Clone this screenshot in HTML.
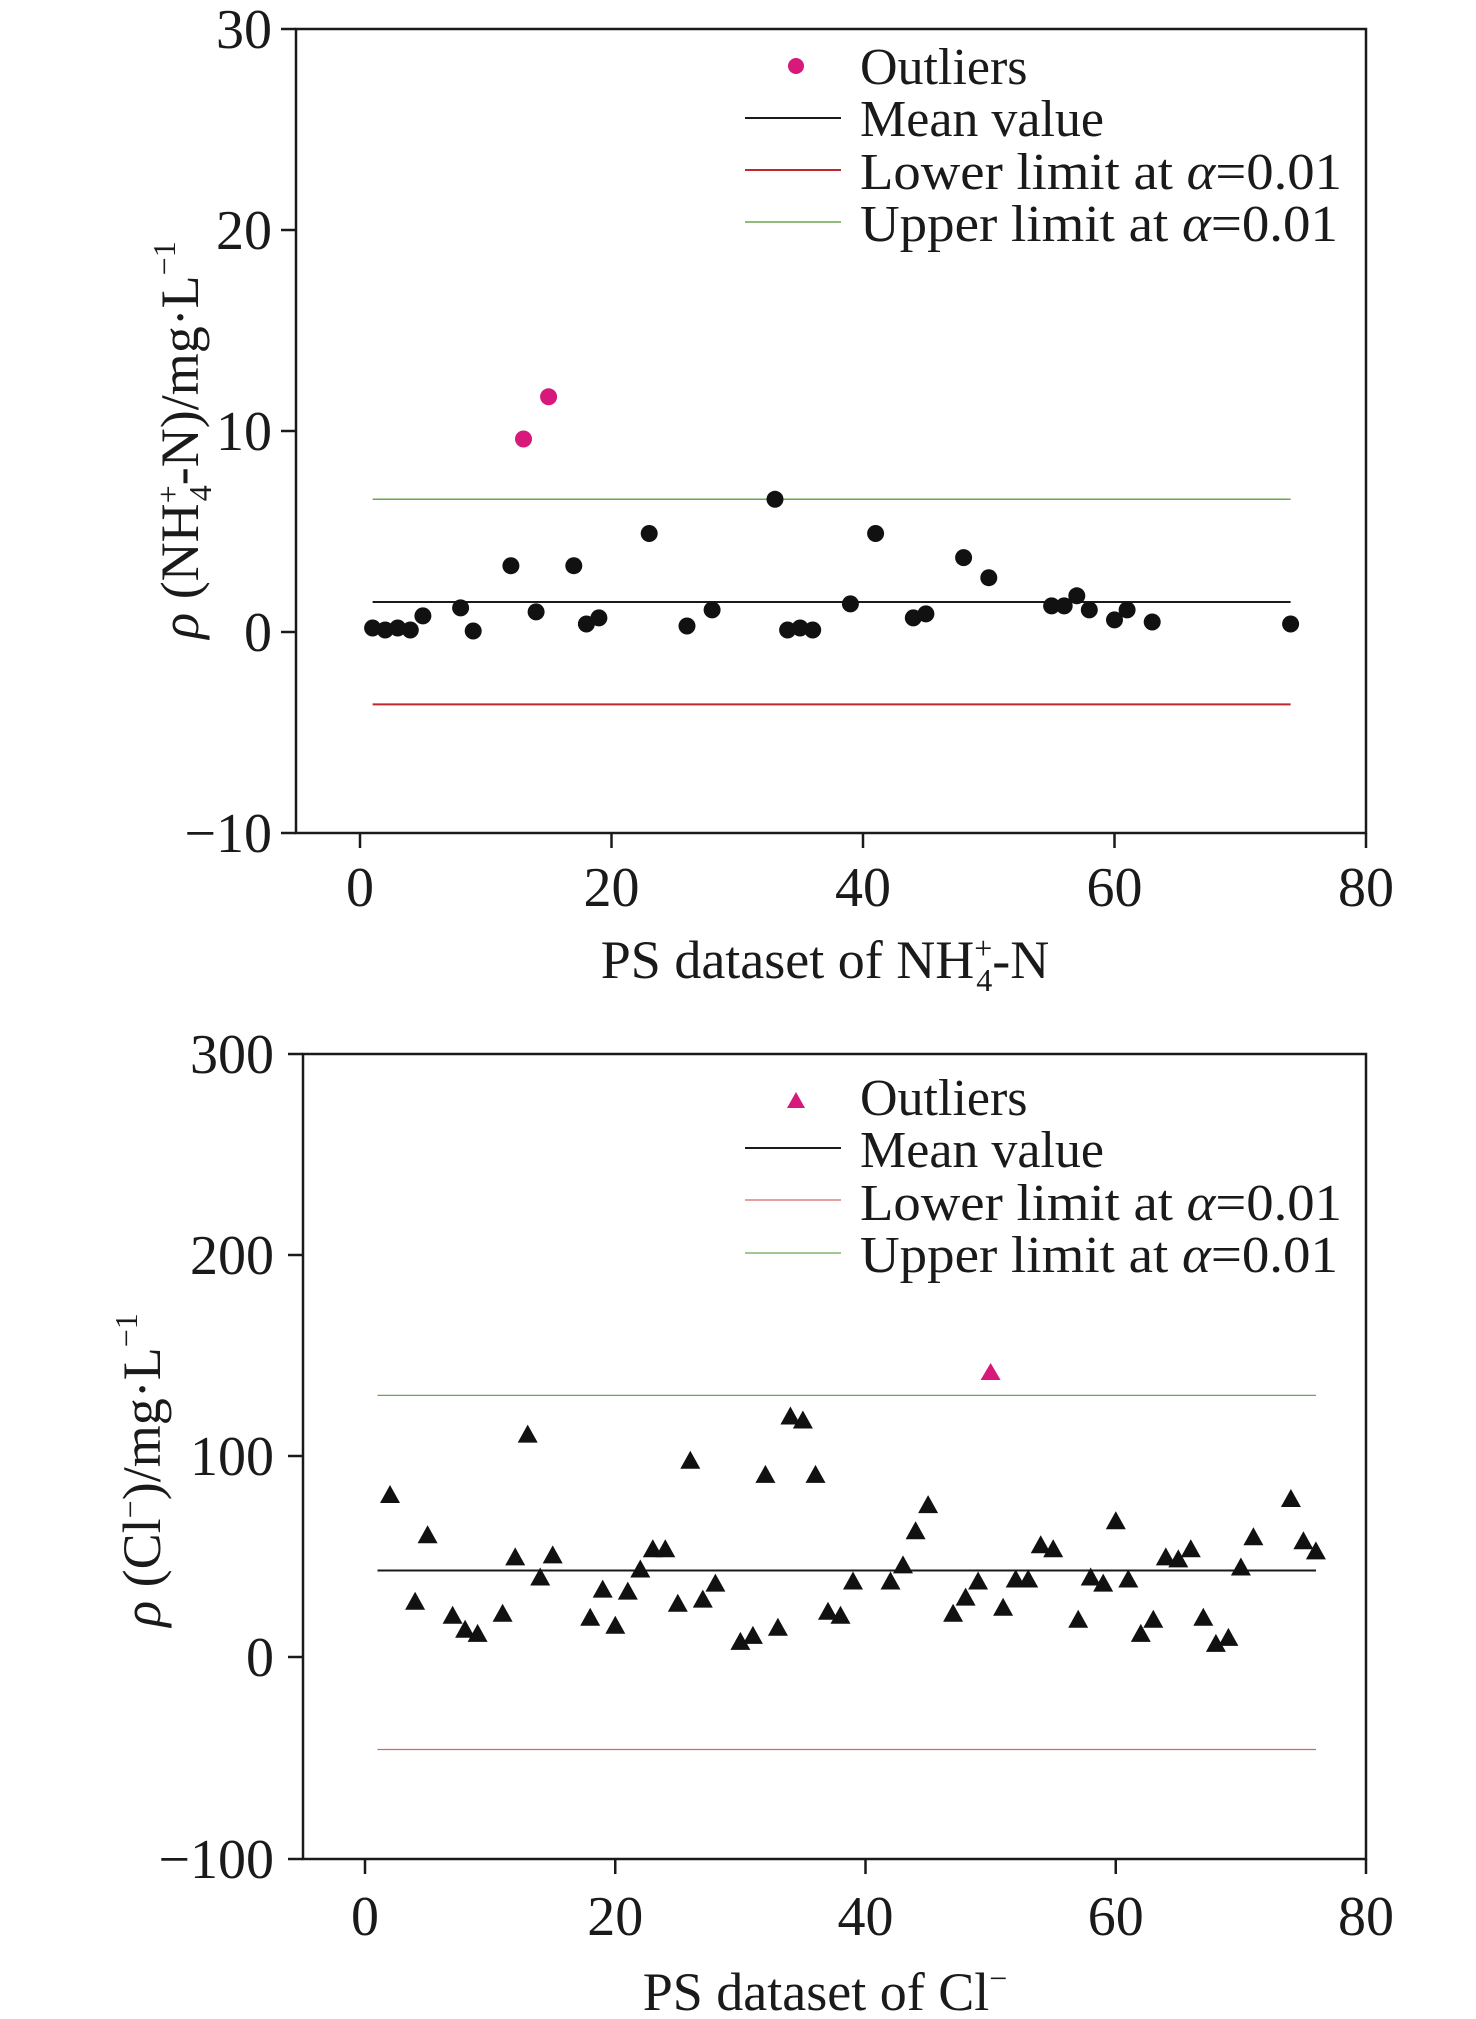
<!DOCTYPE html>
<html><head><meta charset="utf-8"><style>
html,body{margin:0;padding:0;background:#fff;}
svg{display:block;}
text{font-family:"Liberation Serif","Times New Roman",serif;fill:#1a1a1a;}
</style></head><body>
<svg width="1476" height="2019" viewBox="0 0 1476 2019" xmlns="http://www.w3.org/2000/svg" font-family="Liberation Serif, serif">
<defs><polygon id="t" points="0,-11 -10,7 10,7" fill="#111"/></defs>
<g id="top">
<rect x="296" y="29" width="1070" height="804" fill="none" stroke="#1a1a1a" stroke-width="2.5"/>
<g stroke="#1a1a1a" stroke-width="2.5">
<line x1="281" y1="29" x2="296" y2="29"/><line x1="281" y1="230" x2="296" y2="230"/><line x1="281" y1="431" x2="296" y2="431"/><line x1="281" y1="632" x2="296" y2="632"/><line x1="281" y1="833" x2="296" y2="833"/>
<line x1="360" y1="833" x2="360" y2="848"/><line x1="611.5" y1="833" x2="611.5" y2="848"/><line x1="863" y1="833" x2="863" y2="848"/><line x1="1114.5" y1="833" x2="1114.5" y2="848"/><line x1="1366" y1="833" x2="1366" y2="848"/>
</g>
<g font-size="56" text-anchor="end">
<text x="272" y="48">30</text><text x="272" y="249">20</text><text x="272" y="450">10</text><text x="272" y="651">0</text><text x="272" y="852">−10</text>
</g>
<g font-size="56" text-anchor="middle">
<text x="360" y="906">0</text><text x="611.5" y="906">20</text><text x="863" y="906">40</text><text x="1114.5" y="906">60</text><text x="1366" y="906">80</text>
</g>
<text x="825" y="978" font-size="54" text-anchor="middle">PS dataset of NH<tspan font-size="32" dy="-19">+</tspan><tspan font-size="32" dx="-16" dy="32">4</tspan><tspan dy="-13">-N</tspan></text>
<text transform="translate(198,440) rotate(-90)" font-size="54" text-anchor="middle"><tspan font-style="italic">ρ</tspan> (NH<tspan font-size="32" dy="-19">+</tspan><tspan font-size="32" dx="-16" dy="32">4</tspan><tspan dy="-13">-N)/mg·L</tspan><tspan font-size="32" dy="-23">−1</tspan></text>
<line x1="372.6" y1="602" x2="1290.6" y2="602" stroke="#1a1a1a" stroke-width="2"/>
<line x1="372.6" y1="499.3" x2="1290.6" y2="499.3" stroke="#6aa84f" stroke-width="1.5"/>
<line x1="372.6" y1="704.4" x2="1290.6" y2="704.4" stroke="#c0272d" stroke-width="2"/>
<circle cx="523.5" cy="439" r="8.5" fill="#d6197a"/><circle cx="548.6" cy="396.8" r="8.5" fill="#d6197a"/>
<circle cx="796" cy="66" r="8" fill="#d6197a"/>
<line x1="745" y1="118" x2="841" y2="118" stroke="#1a1a1a" stroke-width="2"/>
<line x1="745" y1="170" x2="841" y2="170" stroke="#c0272d" stroke-width="2"/>
<line x1="745" y1="222" x2="841" y2="222" stroke="#6aa84f" stroke-width="1.5"/>
<g font-size="52">
<text x="860" y="84">Outliers</text>
<text x="860" y="136">Mean value</text>
<text x="860" y="189" textLength="482" lengthAdjust="spacingAndGlyphs">Lower limit at <tspan font-style="italic">α</tspan>=0.01</text>
<text x="860" y="241" textLength="478" lengthAdjust="spacingAndGlyphs">Upper limit at <tspan font-style="italic">α</tspan>=0.01</text>
</g>
</g>
<g id="bot">
<rect x="303" y="1054" width="1063" height="805" fill="none" stroke="#1a1a1a" stroke-width="2.5"/>
<g stroke="#1a1a1a" stroke-width="2.5">
<line x1="288" y1="1054" x2="303" y2="1054"/><line x1="288" y1="1255" x2="303" y2="1255"/><line x1="288" y1="1456" x2="303" y2="1456"/><line x1="288" y1="1657" x2="303" y2="1657"/><line x1="288" y1="1859" x2="303" y2="1859"/>
<line x1="365" y1="1859" x2="365" y2="1874"/><line x1="615.25" y1="1859" x2="615.25" y2="1874"/><line x1="865.5" y1="1859" x2="865.5" y2="1874"/><line x1="1115.75" y1="1859" x2="1115.75" y2="1874"/><line x1="1366" y1="1859" x2="1366" y2="1874"/>
</g>
<g font-size="56" text-anchor="end">
<text x="274" y="1073">300</text><text x="274" y="1274">200</text><text x="274" y="1475">100</text><text x="274" y="1676">0</text><text x="274" y="1878">−100</text>
</g>
<g font-size="56" text-anchor="middle">
<text x="365" y="1935">0</text><text x="615.25" y="1935">20</text><text x="865.5" y="1935">40</text><text x="1115.75" y="1935">60</text><text x="1366" y="1935">80</text>
</g>
<text x="825" y="2010" font-size="54" text-anchor="middle">PS dataset of Cl<tspan font-size="32" dy="-21">−</tspan></text>
<text transform="translate(160,1470) rotate(-90)" font-size="54" text-anchor="middle"><tspan font-style="italic">ρ</tspan> (Cl<tspan font-size="32" dy="-19">−</tspan><tspan dy="19">)/mg·L</tspan><tspan font-size="32" dy="-23">−1</tspan></text>
<line x1="377.5" y1="1570.5" x2="1316" y2="1570.5" stroke="#1a1a1a" stroke-width="2"/>
<line x1="377.5" y1="1395.4" x2="1316" y2="1395.4" stroke="#6aa84f" stroke-width="1.3"/>
<line x1="377.5" y1="1749.5" x2="1316" y2="1749.5" stroke="#c0272d" stroke-width="1.2" opacity="0.7"/>
<polygon points="990.6,1363 980.6,1380 1000.6,1380" fill="#d6197a"/>
<polygon points="796,1092 787,1108 805,1108" fill="#d6197a"/>
<line x1="745" y1="1148" x2="841" y2="1148" stroke="#1a1a1a" stroke-width="2"/>
<line x1="745" y1="1200" x2="841" y2="1200" stroke="#c0272d" stroke-width="1.2" opacity="0.7"/>
<line x1="745" y1="1253" x2="841" y2="1253" stroke="#6aa84f" stroke-width="1.3"/>
<g font-size="52">
<text x="860" y="1115">Outliers</text>
<text x="860" y="1167">Mean value</text>
<text x="860" y="1220" textLength="482" lengthAdjust="spacingAndGlyphs">Lower limit at <tspan font-style="italic">α</tspan>=0.01</text>
<text x="860" y="1272" textLength="478" lengthAdjust="spacingAndGlyphs">Upper limit at <tspan font-style="italic">α</tspan>=0.01</text>
</g>
</g>
<g fill="#111">
<circle cx="372.6" cy="628" r="8.5"/><circle cx="385.2" cy="630" r="8.5"/><circle cx="397.7" cy="628" r="8.5"/><circle cx="410.3" cy="630" r="8.5"/><circle cx="422.9" cy="615.9" r="8.5"/><circle cx="460.6" cy="607.9" r="8.5"/><circle cx="473.2" cy="631" r="8.5"/><circle cx="510.9" cy="565.7" r="8.5"/><circle cx="536.1" cy="611.9" r="8.5"/><circle cx="573.8" cy="565.7" r="8.5"/><circle cx="586.4" cy="624" r="8.5"/><circle cx="598.9" cy="617.9" r="8.5"/><circle cx="649.2" cy="533.5" r="8.5"/><circle cx="687" cy="626" r="8.5"/><circle cx="712.1" cy="609.9" r="8.5"/><circle cx="775" cy="499.3" r="8.5"/><circle cx="787.6" cy="630" r="8.5"/><circle cx="800.1" cy="628" r="8.5"/><circle cx="812.7" cy="630" r="8.5"/><circle cx="850.4" cy="603.9" r="8.5"/><circle cx="875.6" cy="533.5" r="8.5"/><circle cx="913.3" cy="617.9" r="8.5"/><circle cx="925.9" cy="613.9" r="8.5"/><circle cx="963.6" cy="557.6" r="8.5"/><circle cx="988.8" cy="577.7" r="8.5"/><circle cx="1051.6" cy="605.9" r="8.5"/><circle cx="1064.2" cy="605.9" r="8.5"/><circle cx="1076.8" cy="595.8" r="8.5"/><circle cx="1089.3" cy="609.9" r="8.5"/><circle cx="1114.5" cy="619.9" r="8.5"/><circle cx="1127.1" cy="609.9" r="8.5"/><circle cx="1152.2" cy="622" r="8.5"/><circle cx="1290.6" cy="624" r="8.5"/>
</g>
<g>
<use href="#t" x="390.0" y="1496.0"/><use href="#t" x="415.1" y="1602.7"/><use href="#t" x="427.6" y="1536.3"/><use href="#t" x="452.6" y="1616.8"/><use href="#t" x="465.1" y="1630.8"/><use href="#t" x="477.6" y="1634.9"/><use href="#t" x="502.6" y="1614.7"/><use href="#t" x="515.2" y="1558.4"/><use href="#t" x="527.7" y="1435.6"/><use href="#t" x="540.2" y="1578.5"/><use href="#t" x="552.7" y="1556.4"/><use href="#t" x="590.2" y="1618.8"/><use href="#t" x="602.7" y="1590.6"/><use href="#t" x="615.3" y="1626.8"/><use href="#t" x="627.8" y="1592.6"/><use href="#t" x="640.3" y="1570.5"/><use href="#t" x="652.8" y="1550.3"/><use href="#t" x="665.3" y="1550.3"/><use href="#t" x="677.8" y="1604.7"/><use href="#t" x="690.3" y="1461.8"/><use href="#t" x="702.8" y="1600.6"/><use href="#t" x="715.4" y="1584.6"/><use href="#t" x="740.4" y="1642.9"/><use href="#t" x="752.9" y="1636.9"/><use href="#t" x="765.4" y="1475.9"/><use href="#t" x="777.9" y="1628.8"/><use href="#t" x="790.4" y="1417.5"/><use href="#t" x="802.9" y="1421.5"/><use href="#t" x="815.5" y="1475.9"/><use href="#t" x="828.0" y="1612.7"/><use href="#t" x="840.5" y="1616.8"/><use href="#t" x="853.0" y="1582.5"/><use href="#t" x="890.5" y="1582.5"/><use href="#t" x="903.0" y="1566.4"/><use href="#t" x="915.6" y="1532.2"/><use href="#t" x="928.1" y="1506.1"/><use href="#t" x="953.1" y="1614.7"/><use href="#t" x="965.6" y="1598.6"/><use href="#t" x="978.1" y="1582.5"/><use href="#t" x="1003.1" y="1608.7"/><use href="#t" x="1015.7" y="1580.5"/><use href="#t" x="1028.2" y="1580.5"/><use href="#t" x="1040.7" y="1546.3"/><use href="#t" x="1053.2" y="1550.3"/><use href="#t" x="1078.2" y="1620.8"/><use href="#t" x="1090.7" y="1578.5"/><use href="#t" x="1103.2" y="1584.6"/><use href="#t" x="1115.8" y="1522.2"/><use href="#t" x="1128.3" y="1580.5"/><use href="#t" x="1140.8" y="1634.9"/><use href="#t" x="1153.3" y="1620.8"/><use href="#t" x="1165.8" y="1558.4"/><use href="#t" x="1178.3" y="1560.4"/><use href="#t" x="1190.8" y="1550.3"/><use href="#t" x="1203.3" y="1618.8"/><use href="#t" x="1215.9" y="1644.9"/><use href="#t" x="1228.4" y="1638.9"/><use href="#t" x="1240.9" y="1568.5"/><use href="#t" x="1253.4" y="1538.3"/><use href="#t" x="1290.9" y="1500.0"/><use href="#t" x="1303.4" y="1542.3"/><use href="#t" x="1315.9" y="1552.4"/>
</g>
</svg>
</body></html>
